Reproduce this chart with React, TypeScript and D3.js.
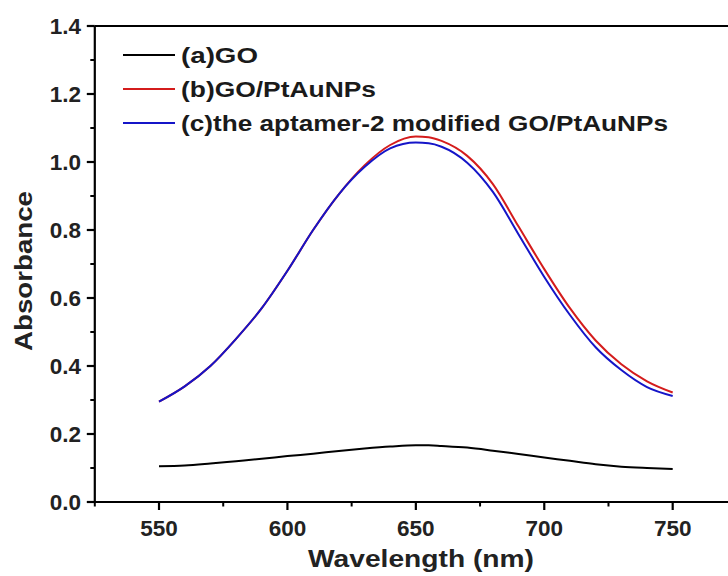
import React from "react";
import * as d3 from "d3";

const wavelengths = [550, 560, 570, 580, 590, 600, 610, 620, 630, 640, 650, 655, 660, 670, 680, 690, 700, 710, 720, 730, 740, 750];
const seriesGO = [0.105, 0.107, 0.113, 0.12, 0.127, 0.135, 0.142, 0.15, 0.157, 0.163, 0.167, 0.167, 0.165, 0.16, 0.151, 0.141, 0.131, 0.121, 0.111, 0.104, 0.1, 0.097];
const seriesGOPtAu = [0.295, 0.34, 0.4, 0.48, 0.57, 0.68, 0.8, 0.905, 0.99, 1.05, 1.075, 1.073, 1.062, 1.018, 0.935, 0.81, 0.685, 0.57, 0.475, 0.405, 0.355, 0.322];
const seriesAptamer = [0.295, 0.34, 0.4, 0.48, 0.57, 0.68, 0.8, 0.905, 0.985, 1.04, 1.057, 1.055, 1.045, 0.998, 0.912, 0.787, 0.662, 0.55, 0.455, 0.388, 0.338, 0.312];
const legendLabels = ["(a)GO", "(b)GO/PtAuNPs", "(c)the aptamer-2 modified GO/PtAuNPs"];
const legendWidths = [77, 195, 487];
const colors = ["#000000", "#d41c1c", "#1515c8"];
const xMajorTicks = [550, 600, 650, 700, 750];
const xMinorTicks = [525, 575, 625, 675, 725, 775];
const yMajorTicks = [0, 0.2, 0.4, 0.6, 0.8, 1.0, 1.2, 1.4];
const yMinorTicks = [0.1, 0.3, 0.5, 0.7, 0.9, 1.1, 1.3];

export default function App() {
  const W = 728, H = 576;
  const x = d3.scaleLinear().domain([525, 775]).range([94.8, 736.9]);
  const y = d3.scaleLinear().domain([0, 1.4]).range([502, 26]);
  const series = [seriesGO, seriesGOPtAu, seriesAptamer];
  const line = (vals: number[]) =>
    d3.line<number>()
      .x((_, i) => x(wavelengths[i]))
      .y((d) => y(d))
      .curve(d3.curveMonotoneX)(vals) || "";
  const font = "'Liberation Sans', Arial, sans-serif";
  const drawOrder = [0, 1, 2];
  return (
    <svg width={W} height={H} style={{ position: "absolute", left: 0, top: 0, background: "#fff" }} fontFamily={font}>
      <rect width={W} height={H} fill="#fff" />
      {drawOrder.map((k) => (
        <path key={k} d={line(series[k])} fill="none" stroke={colors[k]} strokeWidth={2} />
      ))}
      <line x1={x(525)} x2={x(525)} y1={y(0)} y2={y(1.4)} stroke="#000" strokeWidth={2.2} />
      <line x1={x(525)} x2={x(775)} y1={y(0)} y2={y(0)} stroke="#000" strokeWidth={2.2} />
      <line x1={x(525)} x2={x(775)} y1={y(1.4)} y2={y(1.4)} stroke="#000" strokeWidth={2.2} />
      {yMajorTicks.map((t) => (
        <g key={"ym" + t}>
          <line x1={x(525) - 8} x2={x(525)} y1={y(t)} y2={y(t)} stroke="#000" strokeWidth={2.2} />
          <text x={81} y={y(t)} dy="0.36em" textAnchor="end" fontSize={22.5} fontWeight="bold" fill="#222">{t.toFixed(1)}</text>
        </g>
      ))}
      {yMinorTicks.map((t) => (
        <line key={"yn" + t} x1={x(525) - 4.5} x2={x(525)} y1={y(t)} y2={y(t)} stroke="#000" strokeWidth={2} />
      ))}
      {xMajorTicks.map((t) => (
        <g key={"xm" + t}>
          <line x1={x(t)} x2={x(t)} y1={y(0)} y2={y(0) + 8} stroke="#000" strokeWidth={2.2} />
          <text x={x(t)} y={536} textAnchor="middle" fontSize={22.5} fontWeight="bold" fill="#222">{t}</text>
        </g>
      ))}
      {xMinorTicks.map((t) => (
        <line key={"xn" + t} x1={x(t)} x2={x(t)} y1={y(0)} y2={y(0) + 4.5} stroke="#000" strokeWidth={2} />
      ))}
      <text x={421} y={567} textAnchor="middle" fontSize={24} fontWeight="bold" fill="#222" textLength={226} lengthAdjust="spacingAndGlyphs">Wavelength (nm)</text>
      <text transform={`translate(32,271) rotate(-90)`} textAnchor="middle" fontSize={24} fontWeight="bold" fill="#222" textLength={160} lengthAdjust="spacingAndGlyphs">Absorbance</text>
      {legendLabels.map((lab, i) => (
        <g key={lab}>
          <line x1={123} x2={175} y1={55 + i * 34} y2={55 + i * 34} stroke={colors[i]} strokeWidth={2} />
          <text x={181} y={55 + i * 34} dy="0.36em" fontSize={22} fontWeight="bold" fill="#1a1a1a" textLength={legendWidths[i]} lengthAdjust="spacingAndGlyphs">{lab}</text>
        </g>
      ))}
    </svg>
  );
}
